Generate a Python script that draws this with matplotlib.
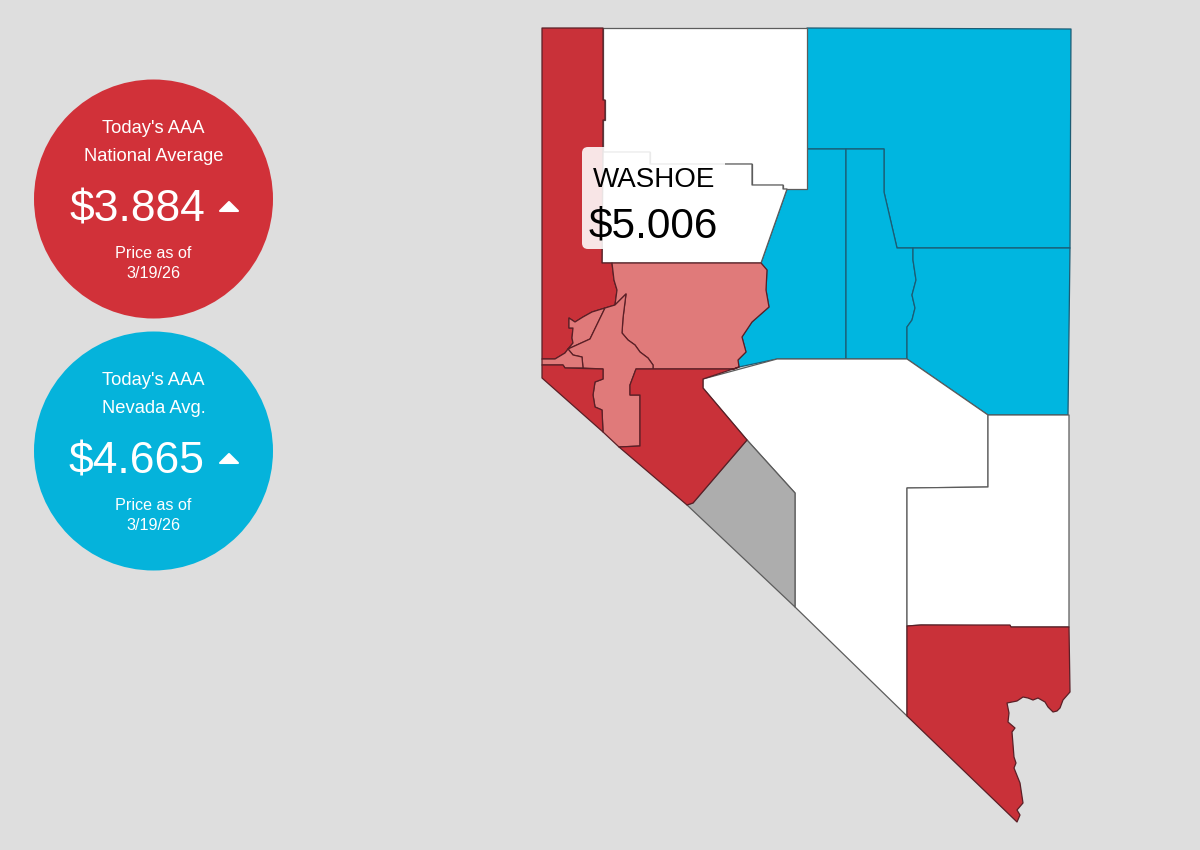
import matplotlib
matplotlib.use('Agg')
import matplotlib.pyplot as plt
from matplotlib.patches import Polygon, Circle, FancyBboxPatch

plt.rcParams['font.family'] = ['Liberation Sans', 'DejaVu Sans']

# county outlines
elko = [(807, 28), (1071, 29), (1070, 248), (913, 248), (897, 248), (884, 192), (884, 149), (807, 149)]
lander = [(807, 149), (846, 149), (846, 359), (777, 359), (739, 367), (738, 360), (746, 352),
          (742, 337), (752, 322), (769, 307), (766, 290), (767, 270), (761, 263), (787, 189), (807, 189)]
eureka = [(846, 149), (884, 149), (884, 192), (897, 248), (913, 248), (913, 260), (916, 280), (912, 295),
          (915, 308), (912, 320), (907, 327), (907, 359), (846, 359)]
white_pine = [(913, 248), (1070, 248), (1068, 415), (988, 415), (907, 359), (907, 327), (912, 320),
              (915, 308), (912, 295), (916, 280), (913, 260)]
humboldt = [(603, 28), (807, 28), (807, 189), (787, 189), (783, 189), (783, 185), (752, 185),
            (752, 164), (650, 164), (650, 152), (603, 152), (603, 120), (605, 120), (605, 100), (603, 100)]
pershing = [(603, 152), (650, 152), (650, 164), (752, 164), (752, 185), (783, 185), (783, 189),
            (787, 189), (761, 263), (602, 263)]
washoe = [(542, 28), (603, 28), (603, 100), (605, 100), (605, 120), (603, 120), (602, 263), (612, 263),
          (614, 280), (617, 290), (615, 305), (605, 308), (592, 312), (583, 317), (575, 322), (569, 318),
          (569, 328), (573, 328), (572, 338), (573, 343), (568, 349), (565, 353), (555, 359), (542, 359)]
churchill = [(612, 263), (761, 263), (767, 270), (766, 290), (769, 307), (752, 322), (742, 337),
             (746, 352), (738, 360), (739, 367), (734, 369), (653, 369), (653, 365), (648, 358), (640, 352),
             (635, 345), (628, 340), (622, 333), (623, 318), (626, 294), (615, 305), (617, 290), (614, 280)]
storey = [(569, 318), (575, 322), (583, 317), (592, 312), (605, 308), (590, 339), (568, 349), (573, 343),
          (572, 338), (573, 328), (569, 328)]
lyon = [(626, 294), (623, 318), (622, 333), (628, 340), (635, 345), (640, 352), (648, 358), (653, 365),
        (653, 369), (636, 369), (630, 385), (630, 395), (640, 395), (640, 446), (619, 447), (603, 432),
        (602, 410), (595, 407), (593, 395), (595, 382), (603, 379), (603, 369), (583, 368), (582, 357),
        (573, 355), (568, 349), (590, 339), (605, 308), (615, 305)]
carson = [(542, 359), (555, 359), (565, 353), (568, 349), (573, 355), (582, 357), (583, 368), (565, 368),
          (563, 365), (542, 365)]
douglas = [(542, 365), (563, 365), (565, 368), (603, 369), (603, 379), (595, 382), (593, 395), (595, 407),
           (602, 410), (603, 432), (542, 378)]
mineral = [(636, 369), (734, 369), (739, 367), (703, 379), (703, 388), (747, 440), (693, 503), (687, 505),
           (619, 447), (640, 446), (640, 395), (630, 395), (630, 385)]
esmeralda = [(747, 440), (795, 493), (795, 607), (687, 505), (693, 503)]
nye = [(703, 379), (777, 359), (907, 359), (988, 415), (988, 487), (907, 488), (907, 716), (795, 607),
       (795, 493), (747, 440), (703, 388)]
lincoln = [(988, 415), (1069, 415), (1069, 627), (1011, 627), (1010, 626), (921, 625), (907, 626),
           (907, 488), (988, 487)]
clark = [(907, 626), (921, 625), (1010, 625), (1011, 627), (1069, 627), (1070, 692), (1063, 700), (1060, 708),
         (1057, 711), (1053, 712), (1048, 707), (1045, 702), (1038, 698), (1033, 700), (1028, 698), (1023, 697),
         (1017, 701), (1007, 703), (1009, 713), (1008, 722), (1015, 728), (1012, 732), (1014, 757), (1016, 763),
         (1014, 768), (1020, 783), (1023, 803), (1017, 810), (1020, 815), (1017, 822), (907, 716)]

county_shapes = [elko, lander, eureka, white_pine, humboldt, pershing, nye, lincoln, esmeralda,
                 washoe, churchill, storey, lyon, carson, douglas, mineral, clark]
county_colors = ['blue', 'blue', 'blue', 'blue', 'white', 'white', 'white', 'white', 'gray',
                 'red', 'pink', 'pink', 'pink', 'pink', 'red', 'red', 'red']
palette = {'blue': '#00b6e0', 'white': '#ffffff', 'gray': '#adadad', 'red': '#c93139', 'pink': '#e07a7a'}
edge_palette = {'blue': '#1c5c74', 'white': '#5c5c5c', 'gray': '#5c5c5c', 'red': '#5a1f26', 'pink': '#5a1f26'}

avg_titles = [("Today's AAA", 'National Average'), ("Today's AAA", 'Nevada Avg.')]
avg_prices = ['$3.884', '$4.665']
avg_dates = ['3/19/26', '3/19/26']
avg_colors = ['#d13139', '#05b3db']
avg_centers = [199, 451]

tip_name = 'WASHOE'
tip_price = '$5.006'

fig = plt.figure(figsize=(12, 8.5), dpi=100, facecolor='#dedede')
ax = fig.add_axes([0, 0, 1, 1])
ax.set_xlim(0, 1200)
ax.set_ylim(850, 0)
ax.axis('off')

# map
for shape, c in zip(county_shapes, county_colors):
    ax.add_patch(Polygon(shape, closed=True, facecolor=palette[c], edgecolor=edge_palette[c], linewidth=0.9,
                         joinstyle='round'))

# tooltip sits on top of the map
ax.add_patch(FancyBboxPatch((588, 153), 131, 90, boxstyle='round,pad=6', facecolor='white', edgecolor='none',
                            alpha=0.88))
ax.text(593, 177, tip_name, fontsize=20, color='black', ha='left', va='center_baseline')
ax.text(589, 222, tip_price, fontsize=30.5, color='black', ha='left', va='center_baseline')

# average circles
for i in range(2):
    cy = avg_centers[i]
    ax.add_patch(Circle((153.5, cy), 119.5, facecolor=avg_colors[i], edgecolor='none'))
    ax.text(153.5, cy - 71, avg_titles[i][0], fontsize=13.2, color='white', ha='center', va='center')
    ax.text(153.5, cy - 43, avg_titles[i][1], fontsize=13.2, color='white', ha='center', va='center')
    ax.text(137, cy + 6, avg_prices[i], fontsize=32, color='white', ha='center', va='center_baseline')
    ax.add_patch(Polygon([(220, cy + 12), (238, cy + 12), (229, cy + 3)], closed=True, facecolor='white',
                         edgecolor='white', linewidth=1.5, joinstyle='round'))
    ax.text(153.5, cy + 54, 'Price as of', fontsize=11.6, color='white', ha='center', va='center')
    ax.text(153.5, cy + 74, avg_dates[i], fontsize=11.6, color='white', ha='center', va='center')

fig.savefig('out.png', dpi=100, facecolor=fig.get_facecolor())
